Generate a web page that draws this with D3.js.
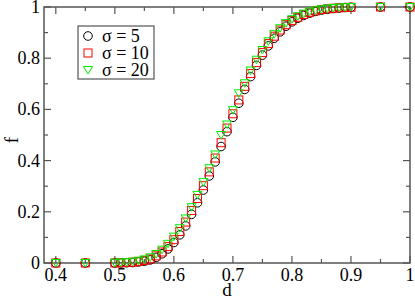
<!DOCTYPE html>
<html>
<head>
<meta charset="utf-8">
<script src="https://cdn.jsdelivr.net/npm/d3@7"></script>
<style>
  body { margin: 0; background: #fff; }
</style>
</head>
<body>
<svg id="chart" width="415" height="299"></svg>
<script>
// d values (shared by all series)
const dVals = [0.40, 0.45, 0.50, 0.51, 0.52, 0.53, 0.54, 0.55, 0.56, 0.57, 0.58, 0.59,
  0.60, 0.61, 0.62, 0.63, 0.64, 0.65, 0.66, 0.67, 0.68, 0.69,
  0.70, 0.71, 0.72, 0.73, 0.74, 0.75, 0.76, 0.77, 0.78, 0.79,
  0.80, 0.81, 0.82, 0.83, 0.84, 0.85, 0.86, 0.87, 0.88, 0.89, 0.90, 0.95, 1.00];

const fSigma5 = [0, 0, 0, 0, 0.001, 0.002, 0.004, 0.007, 0.012, 0.022, 0.036, 0.055,
  0.080, 0.110, 0.145, 0.190, 0.235, 0.285, 0.340, 0.395, 0.455, 0.513,
  0.569, 0.624, 0.678, 0.728, 0.772, 0.812, 0.848, 0.878, 0.903, 0.925,
  0.942, 0.956, 0.967, 0.976, 0.983, 0.988, 0.991, 0.994, 0.996, 0.998, 0.999, 1, 1];

const fSigma10 = [0, 0, 0, 0.001, 0.002, 0.003, 0.006, 0.010, 0.016, 0.028, 0.043, 0.064,
  0.091, 0.123, 0.160, 0.205, 0.252, 0.302, 0.356, 0.410, 0.470, 0.527,
  0.583, 0.637, 0.690, 0.740, 0.783, 0.822, 0.857, 0.886, 0.910, 0.931,
  0.947, 0.960, 0.971, 0.979, 0.985, 0.990, 0.993, 0.995, 0.997, 0.998, 0.999, 1, 1];

const fSigma20 = [0, 0, 0.001, 0.002, 0.003, 0.005, 0.009, 0.014, 0.022, 0.035, 0.052, 0.075,
  0.103, 0.136, 0.174, 0.218, 0.266, 0.316, 0.370, 0.424, 0.500, 0.541,
  0.597, 0.663, 0.702, 0.752, 0.794, 0.832, 0.866, 0.894, 0.917, 0.937,
  0.952, 0.964, 0.974, 0.982, 0.987, 0.991, 0.994, 0.996, 0.998, 0.999, 1, 1, 1];

const seriesNames = ["σ = 5", "σ = 10", "σ = 20"];
const seriesColors = ["#000000", "#ff0000", "#00ee00"];
const seriesShapes = ["circle", "square", "triangle"];
const xTicks = [0.4, 0.5, 0.6, 0.7, 0.8, 0.9, 1];
const yTicks = [0, 0.2, 0.4, 0.6, 0.8, 1];

const FONT = "Liberation Serif";
const svg = d3.select("#chart");
const mLeft = 44, mRight = 410, mTop = 7, mBottom = 263;

const x = d3.scaleLinear().domain([0.38, 1.0]).range([mLeft, mRight]);
const y = d3.scaleLinear().domain([0, 1]).range([mBottom, mTop]);

const frameColor = "#555";

// minor + major ticks, all four sides, pointing in
const xMinor = d3.range(0.4, 1.0001, 0.05);
const yMinor = d3.range(0, 1.0001, 0.1);
const tickG = svg.append("g").attr("stroke", frameColor).attr("stroke-width", 1.2);
xMinor.forEach(v => {
  const major = xTicks.some(t => Math.abs(t - v) < 1e-6);
  const len = major ? 7 : 4;
  tickG.append("line").attr("x1", x(v)).attr("x2", x(v)).attr("y1", mBottom).attr("y2", mBottom - len);
  tickG.append("line").attr("x1", x(v)).attr("x2", x(v)).attr("y1", mTop).attr("y2", mTop + len);
});
yMinor.forEach(v => {
  const major = yTicks.some(t => Math.abs(t - v) < 1e-6);
  const len = major ? 7 : 4;
  tickG.append("line").attr("x1", mLeft).attr("x2", mLeft + len).attr("y1", y(v)).attr("y2", y(v));
  tickG.append("line").attr("x1", mRight).attr("x2", mRight - len).attr("y1", y(v)).attr("y2", y(v));
});

svg.append("rect")
  .attr("x", mLeft).attr("y", mTop)
  .attr("width", mRight - mLeft).attr("height", mBottom - mTop)
  .attr("fill", "none").attr("stroke", frameColor).attr("stroke-width", 1.5);

// tick labels
svg.append("g").selectAll("text").data(xTicks).join("text")
  .attr("font-family", FONT)
  .attr("x", d => x(d)).attr("y", 281)
  .attr("text-anchor", "middle").attr("font-size", 18)
  .text(d => d3.format("~g")(d));
svg.append("g").selectAll("text").data(yTicks).join("text")
  .attr("font-family", FONT)
  .attr("x", 40).attr("y", d => y(d) + 6)
  .attr("text-anchor", "end").attr("font-size", 18)
  .text(d => d3.format("~g")(d));

// axis titles
svg.append("text").attr("font-family", FONT)
  .attr("x", (mLeft + mRight) / 2).attr("y", 296)
  .attr("text-anchor", "middle").attr("font-size", 19).text("d");
svg.append("text").attr("font-family", FONT)
  .attr("transform", "translate(18,140) rotate(-90)")
  .attr("text-anchor", "middle").attr("font-size", 19).text("f");

function marker(g, shape, color) {
  if (shape === "circle") {
    g.append("circle").attr("r", 4.3).attr("fill", "none").attr("stroke", color);
  } else if (shape === "square") {
    g.append("rect").attr("x", -4).attr("y", -4).attr("width", 8).attr("height", 8)
      .attr("fill", "none").attr("stroke", color);
  } else {
    g.append("path").attr("d", "M-4.5,-3.5L4.5,-3.5L0,4Z")
      .attr("fill", "none").attr("stroke", color);
  }
}

const allSeries = [fSigma5, fSigma10, fSigma20];
allSeries.forEach((vals, si) => {
  const g = svg.append("g");
  vals.forEach((v, i) => {
    const m = g.append("g").attr("transform", `translate(${x(dVals[i])},${y(v)})`);
    marker(m, seriesShapes[si], seriesColors[si]);
  });
});

// legend
const leg = svg.append("g");
leg.append("rect").attr("x", 78).attr("y", 26).attr("width", 76).attr("height", 53)
  .attr("fill", "#fff").attr("stroke", frameColor).attr("stroke-width", 1.2);
seriesNames.forEach((name, i) => {
  const yy = 36 + i * 17;
  const m = leg.append("g").attr("transform", `translate(88,${yy})`);
  marker(m, seriesShapes[i], seriesColors[i]);
  leg.append("text").attr("font-family", FONT)
    .attr("x", 102).attr("y", yy + 6).attr("font-size", 18).text(name);
});
</script>
</body>
</html>
